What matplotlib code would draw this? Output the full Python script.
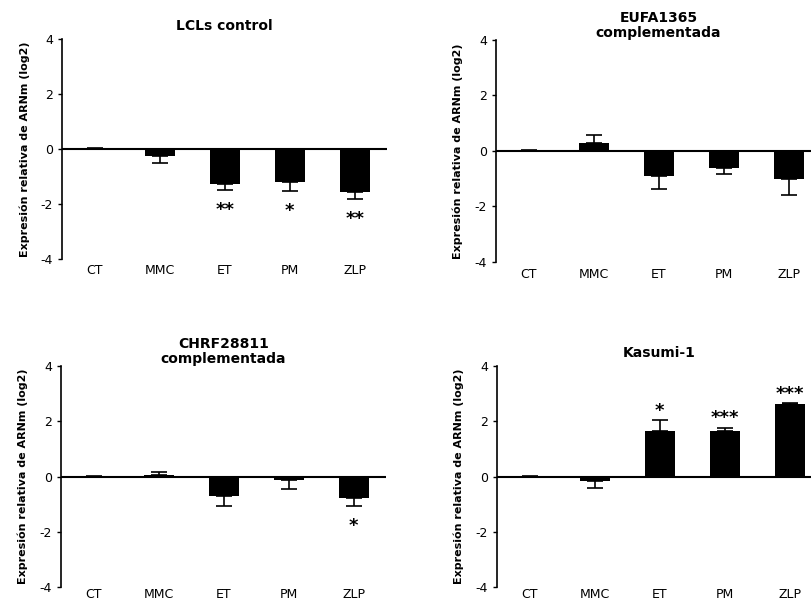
import matplotlib.pyplot as plt
import numpy as np

plt.rcParams['font.family'] = 'DejaVu Sans'
plt.rcParams['axes.unicode_minus'] = False

categories = ['CT', 'MMC', 'ET', 'PM', 'ZLP']

titles = ['LCLs control', 'EUFA1365\ncomplementada',
          'CHRF28811\ncomplementada', 'Kasumi-1']

lcl_vals = [0.0, -0.25, -1.27, -1.2, -1.55]
lcl_err = [0.02, 0.26, 0.22, 0.33, 0.27]
lcl_sig = ['', '', '**', '*', '**']

eufa_vals = [0.0, 0.28, -0.9, -0.6, -1.0]
eufa_err = [0.02, 0.29, 0.48, 0.23, 0.59]
eufa_sig = ['', '', '', '', '']

chrf_vals = [0.0, 0.06, -0.72, -0.13, -0.78]
chrf_err = [0.02, 0.11, 0.34, 0.33, 0.28]
chrf_sig = ['', '', '', '', '*']

kas_vals = [0.0, -0.18, 1.65, 1.65, 2.62]
kas_err = [0.02, 0.24, 0.38, 0.1, 0.03]
kas_sig = ['', '', '*', '***', '***']

panels = [(lcl_vals, lcl_err, lcl_sig),
          (eufa_vals, eufa_err, eufa_sig),
          (chrf_vals, chrf_err, chrf_sig),
          (kas_vals, kas_err, kas_sig)]

boxes = [[0.0765, 0.570, 0.401, 0.365],
         [0.6116, 0.5648, 0.401, 0.3688],
         [0.0752, 0.0249, 0.401, 0.3671],
         [0.6128, 0.0249, 0.401, 0.3671]]
title_pads = [6.5, -1.5, -7, 6.5]
xlabel_pads = [4, 4, 1, 1]

fig = plt.figure(figsize=(8.11, 6.02), dpi=100)
x = np.arange(len(categories))

for (vals, err, sig), box, title, tpad, xpad in zip(panels, boxes, titles,
                                                    title_pads, xlabel_pads):
    ax = fig.add_axes(box)
    vals = np.array(vals)
    err = np.array(err)
    lower = np.where(vals < 0, err, 0)
    upper = np.where(vals >= 0, err, 0)
    ax.bar(x, vals, width=0.46, color='black')
    ax.errorbar(x, vals, yerr=[lower, upper], fmt='none', ecolor='black',
                elinewidth=1.2, capsize=5.5, capthick=1.2)
    ax.axhline(0, color='black', lw=1.5)
    for xi, v, e, s in zip(x, vals, err, sig):
        if not s:
            continue
        if v < 0:
            ax.annotate(s, (xi, v - e), xytext=(0, -14.5), textcoords='offset points',
                        ha='center', va='center', fontsize=13, fontweight='bold')
        else:
            ax.annotate(s, (xi, v + e), xytext=(0, 7), textcoords='offset points',
                        ha='center', va='center', fontsize=13, fontweight='bold')
    ax.set_xlim(-0.5, 4.5)
    ax.set_ylim(-4, 4)
    ax.set_yticks([-4, -2, 0, 2, 4])
    ax.set_xticks(x)
    ax.set_xticklabels(categories)
    ax.tick_params(axis='x', length=0, pad=xpad, labelsize=9)
    ax.tick_params(axis='y', direction='out', length=3, width=1, labelsize=9)
    for side in ['top', 'right', 'bottom']:
        ax.spines[side].set_visible(False)
    ax.spines['left'].set_linewidth(1.2)
    ax.set_ylabel('Expresión relativa de ARNm (log2)', fontsize=8,
                  fontweight='bold', labelpad=8)
    ax.set_title(title, fontsize=10, fontweight='bold', pad=tpad, linespacing=1.1)

plt.savefig('out.png', dpi=100)
